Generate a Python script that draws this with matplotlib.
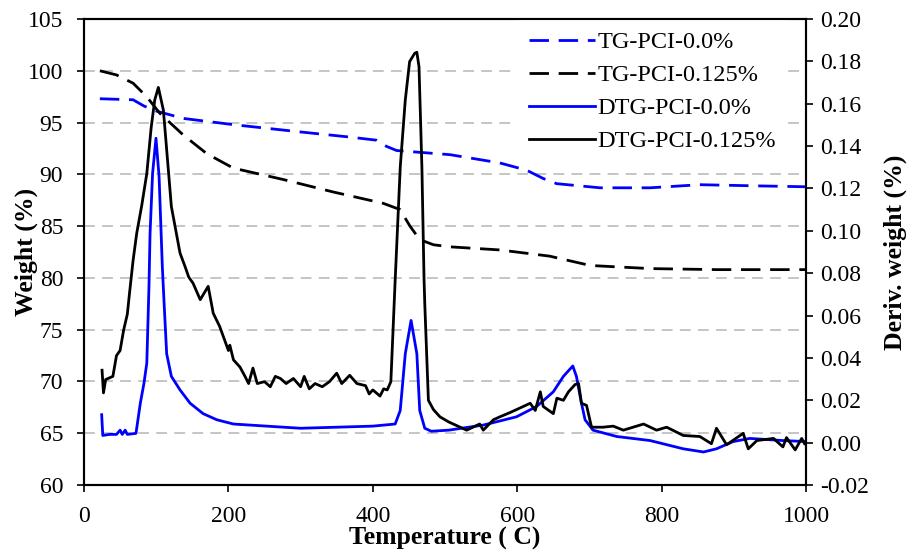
import matplotlib
matplotlib.use('Agg')
import matplotlib.pyplot as plt

plt.rcParams['font.family'] = ['Liberation Serif', 'DejaVu Serif']

# TG curves (left axis, weight %)
tg0_t = [22, 68, 83, 100.6, 137.5, 206.8, 299, 368, 405, 419, 433, 507, 576, 613, 636, 654.6, 714.7, 784, 853, 922, 1000]
tg0_w = [97.3, 97.2, 96.6, 96.1, 95.4, 94.8, 94.1, 93.6, 93.3, 92.7, 92.3, 91.9, 91.1, 90.4, 89.6, 89.1, 88.7, 88.7, 89.0, 88.9, 88.8]

tg125_t = [22, 45, 68, 86.8, 105, 137.5, 170, 206.8, 276, 345, 414.5, 437.7, 451.5, 465, 484, 507, 576, 645, 701, 784, 876, 1000]
tg125_w = [100.0, 99.6, 98.8, 97.5, 95.9, 93.8, 92.0, 90.6, 89.5, 88.3, 87.2, 86.6, 85.0, 83.7, 83.2, 83.0, 82.7, 82.1, 81.2, 80.9, 80.8, 80.8]

# DTG curves (right axis, deriv. weight %)
dtg0_t = [24.5, 26, 35, 45, 50, 53, 57, 60, 72, 78, 83, 87, 90, 91.5, 95, 99.7, 104, 108.5, 111, 114.5,
          121, 133, 147, 165, 184, 207, 253, 300, 350, 400, 431, 438, 445, 453, 461, 465, 472, 481,
          505, 553, 599, 627, 650, 664, 677, 682, 689, 694, 705, 738, 784, 830, 858, 876, 899, 922, 968, 1000]
dtg0_d = [0.0132, 0.0034, 0.0039, 0.0039, 0.0059, 0.0039, 0.0059, 0.0039, 0.0044, 0.0186, 0.0279, 0.0376,
          0.0738, 0.0988, 0.1271, 0.1437, 0.1256, 0.0831, 0.0655, 0.0420, 0.0313, 0.0249, 0.0186, 0.0137,
          0.0108, 0.0088, 0.0078, 0.0068, 0.0073, 0.0078, 0.0088, 0.0152, 0.0420, 0.0577, 0.0420, 0.0152,
          0.0068, 0.0054, 0.0059, 0.0083, 0.0122, 0.0171, 0.0240, 0.0313, 0.0362, 0.0313, 0.0186, 0.0108,
          0.0059, 0.0029, 0.0010, -0.0029, -0.0044, -0.0029, 0.0005, 0.0020, 0.0010, 0.0005]

dtg125_t = [25, 27, 30, 40, 45, 50, 55, 60, 63, 68, 73, 80, 87, 93, 98, 103, 110, 121, 133, 140, 145, 151,
            161, 172, 179, 188, 200, 202, 207, 216, 223, 228, 234, 240, 250, 258, 265, 272, 280, 290, 300,
            305, 312, 320, 330, 340, 350, 357, 368, 378, 390, 395, 400, 410, 415, 420, 425, 431, 438, 445,
            451, 458, 461, 464, 468, 471, 472, 477, 484, 493, 505, 530, 548, 553, 567, 576, 590, 599, 618,
            625, 632, 636, 650, 655, 664, 671, 680, 685, 689, 696, 703, 719, 733, 747, 775, 793, 807, 830,
            853, 869, 876, 890, 913, 920, 932, 955, 968, 973, 985, 994, 998]
dtg125_d = [0.0342, 0.0235, 0.0298, 0.0313, 0.0411, 0.0435, 0.0533, 0.0606, 0.0704, 0.0860, 0.0988, 0.1120,
            0.1271, 0.1486, 0.1618, 0.1677, 0.1569, 0.1115, 0.0895, 0.0831, 0.0782, 0.0753, 0.0675, 0.0738,
            0.0611, 0.0548, 0.0435, 0.0460, 0.0391, 0.0357, 0.0313, 0.0279, 0.0352, 0.0279, 0.0288, 0.0264,
            0.0313, 0.0303, 0.0279, 0.0303, 0.0264, 0.0313, 0.0254, 0.0279, 0.0264, 0.0288, 0.0328, 0.0279,
            0.0318, 0.0279, 0.0269, 0.0230, 0.0249, 0.0220, 0.0254, 0.0249, 0.0288, 0.0768, 0.1300, 0.1618,
            0.1799, 0.1838, 0.1843, 0.1775, 0.1300, 0.0768, 0.0655, 0.0200, 0.0156, 0.0122, 0.0098, 0.0059,
            0.0088, 0.0059, 0.0108, 0.0122, 0.0142, 0.0156, 0.0186, 0.0152, 0.0240, 0.0171, 0.0137, 0.0210,
            0.0200, 0.0240, 0.0274, 0.0279, 0.0186, 0.0176, 0.0073, 0.0073, 0.0078, 0.0059, 0.0088, 0.0059,
            0.0073, 0.0034, 0.0029, -0.0005, 0.0068, -0.0010, 0.0044, -0.0029, 0.0010, 0.0020, -0.0020,
            0.0024, -0.0034, 0.0020, -0.0005]

left_ticks = [60, 65, 70, 75, 80, 85, 90, 95, 100, 105]
right_ticks = [-0.02, 0.00, 0.02, 0.04, 0.06, 0.08, 0.10, 0.12, 0.14, 0.16, 0.18, 0.20]
x_ticks = [0, 200, 400, 600, 800, 1000]

fig = plt.figure(figsize=(9.09, 5.54), dpi=100)
ax = fig.add_axes([0.0924, 0.1245, 0.7943, 0.8412])
ax2 = ax.twinx()

for yv in left_ticks[1:-1]:
    ax.axhline(yv, color='#c0c0c0', lw=1.3, dashes=(6, 4), zorder=0)

dash = (7, 3.5)
l1, = ax.plot(tg0_t, tg0_w, color='#0000ff', lw=2.0, dashes=dash, label='TG-PCI-0.0%')
l2, = ax.plot(tg125_t, tg125_w, color='black', lw=2.0, dashes=dash, label='TG-PCI-0.125%')
l3, = ax2.plot(dtg0_t, dtg0_d, color='#0000ff', lw=2.0, label='DTG-PCI-0.0%')
l4, = ax2.plot(dtg125_t, dtg125_d, color='black', lw=2.0, label='DTG-PCI-0.125%')

ax.set_xlim(0, 1000)
ax.set_ylim(60, 105)
ax2.set_ylim(-0.02, 0.20)
ax.set_xticks(x_ticks)
ax.set_yticks(left_ticks)
ax2.set_yticks(right_ticks)
ax2.set_yticklabels(['%.2f' % v for v in right_ticks])

for a in (ax, ax2):
    a.tick_params(direction='out', length=5, width=1.2, labelsize=17)
    for s in a.spines.values():
        s.set_linewidth(1.5)
        s.set_zorder(10)
ax.tick_params(axis='x', pad=10)
ax.tick_params(axis='y', pad=10)
ax2.tick_params(axis='y', pad=5.5)

ax.set_xlabel('Temperature ( C)', fontsize=18.5, fontweight='bold', labelpad=0)
ax.set_ylabel('Weight (%)', fontsize=18.5, fontweight='bold', labelpad=-7)
ax2.set_ylabel('Deriv. weight (%)', fontsize=18.5, fontweight='bold', labelpad=10)

leg = ax2.legend(handles=[l1, l2, l3, l4], loc='upper left', bbox_to_anchor=(0.600, 1.0),
                 borderaxespad=0, fontsize=17.5, handlelength=2.7, handletextpad=0.1,
                 labelspacing=0.45, borderpad=0.5, frameon=True, fancybox=False, framealpha=1)
leg.get_frame().set_edgecolor('none')
leg.get_frame().set_facecolor('white')

fig.savefig('out.png', dpi=100)
